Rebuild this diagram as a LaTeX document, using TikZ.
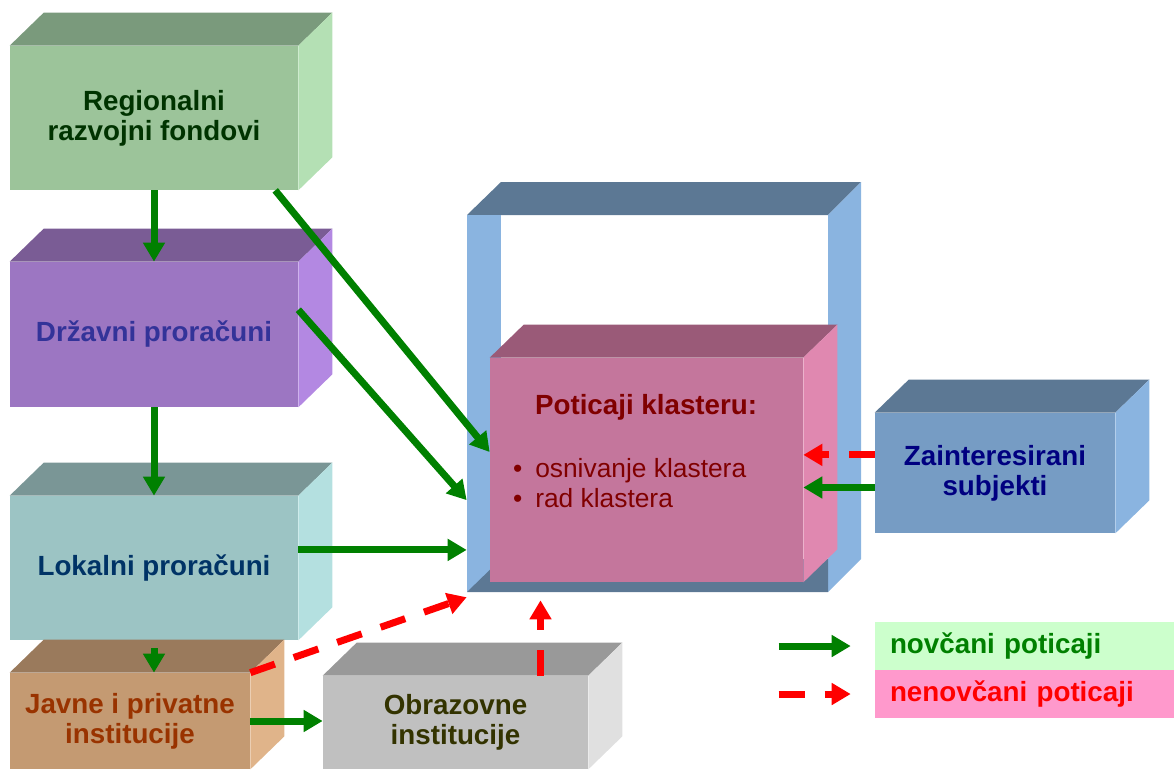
\documentclass[tikz,border=0pt]{standalone}
\usepackage{fontspec}
\setmainfont{Liberation Sans}
\usetikzlibrary{arrows.meta,calc}

\definecolor{zelF}{HTML}{9CC49A}
\definecolor{zelT}{HTML}{7A9A7C}
\definecolor{zelS}{HTML}{B4E0B4}
\definecolor{ljubF}{HTML}{9C76C2}
\definecolor{ljubT}{HTML}{7A5C95}
\definecolor{ljubS}{HTML}{B388E2}
\definecolor{tirkF}{HTML}{9CC4C4}
\definecolor{tirkT}{HTML}{7A9696}
\definecolor{tirkS}{HTML}{B4E0E0}
\definecolor{smedF}{HTML}{C49A72}
\definecolor{smedT}{HTML}{9A7A5C}
\definecolor{smedS}{HTML}{E0B48A}
\definecolor{sivF}{HTML}{C0C0C0}
\definecolor{sivT}{HTML}{999999}
\definecolor{sivS}{HTML}{E0E0E0}
\definecolor{rozF}{HTML}{C4769C}
\definecolor{rozT}{HTML}{9A5A78}
\definecolor{rozS}{HTML}{E088B0}
\definecolor{plavF}{HTML}{769CC4}
\definecolor{plavT}{HTML}{5C7894}
\definecolor{plavS}{HTML}{8AB4E0}
\definecolor{zelena}{HTML}{008000}
\definecolor{crvena}{HTML}{FF0000}
\definecolor{svZelena}{HTML}{CCFFCC}
\definecolor{svRoza}{HTML}{FF99CC}

\tikzset{
	kutija/.style={rectangle, inner sep=0pt, align=center,
		font=\fontsize{15.8}{17}\selectfont\bfseries},
	legenda/.style={rectangle, inner xsep=0.3cm, inner ysep=0pt,
		text width=5.38cm, minimum height=0.96cm, align=left,
		font=\fontsize{15.8}{17}\selectfont\bfseries},
	novac/.style={draw=zelena, line width=0.14cm,
		-{Triangle[length=0.38cm,width=0.42cm]}},
	nenovac/.style={draw=crvena, line width=0.14cm,
		dash pattern=on 0.52cm off 0.4cm,
		-{Triangle[length=0.38cm,width=0.42cm]}}
}

% top and side face of a box, front face is the node
\newcommand{\kocka}[3]{
	\fill[#2] (#1.north west) -- ++(34,-33) -- ([shift={(34,-33)}]#1.north east) -- (#1.north east) -- cycle;
	\fill[#3] (#1.north east) -- ++(34,-33) -- ([shift={(34,-33)}]#1.south east) -- (#1.south east) -- cycle;
}

\begin{document}
\begin{tikzpicture}[x=0.02cm, y=-0.02cm]
	\useasboundingbox (0,0) rectangle (1174,769);
	
	% left column
	\node[kutija, fill=zelF, text={rgb,255:red,0;green,51;blue,0},
		minimum width=5.76cm, minimum height=2.88cm] (regfond) at (154,118)
		{Regionalni\\razvojni fondovi};
	\kocka{regfond}{zelT}{zelS}
	
	\node[kutija, fill=ljubF, text={rgb,255:red,51;green,51;blue,153},
		minimum width=5.76cm, minimum height=2.9cm] (drzava) at (154,334.5)
		{Državni proračuni};
	\kocka{drzava}{ljubT}{ljubS}
	
	\node[kutija, fill=tirkF, text={rgb,255:red,0;green,51;blue,102},
		minimum width=5.76cm, minimum height=2.88cm] (lokal) at (154,568)
		{Lokalni proračuni};
	\kocka{lokal}{tirkT}{tirkS}
	
	\node[kutija, fill=smedF, text={rgb,255:red,153;green,51;blue,0},
		minimum width=4.8cm, minimum height=1.92cm] (javne) at (130,721)
		{Javne i privatne\\institucije};
	\kocka{javne}{smedT}{smedS}
	
	\node[kutija, fill=sivF, text={rgb,255:red,51;green,51;blue,0},
		minimum width=5.3cm, minimum height=1.86cm] (obraz) at (455.5,722.5)
		{Obrazovne\\institucije};
	\kocka{obraz}{sivT}{sivS}
	
	% open frame round the cluster
	\node[rectangle, inner sep=0pt, minimum width=7.22cm, minimum height=7.54cm] (okvir) at (647.5,403.5) {};
	\fill[plavT] (467,215) -- (501,182) -- (861,182) -- (828,215) -- cycle;
	\fill[plavS] (467,215) rectangle (501,592);
	\fill[plavS] (828,215) -- (861,182) -- (861,559) -- (828,592) -- cycle;
	\fill[plavT] (467,592) -- (501,559) -- (828,559) -- (828,592) -- cycle;
	
	\node[kutija, fill=rozF, minimum width=6.26cm, minimum height=4.48cm] (poticaj) at (646.5,470) {};
	\kocka{poticaj}{rozT}{rozS}
	\node[anchor=north west, inner sep=0pt, align=left,
		text={rgb,255:red,128;green,0;blue,0},
		font=\fontsize{15}{17.6}\selectfont] (poticajTekst) at ($(poticaj.north west)+(23,36)$)
		{\hspace*{0.44cm}{\fontsize{15.8}{17.6}\selectfont\bfseries Poticaji klasteru:}\\[0.64cm]
		\textbullet\hspace{0.26cm}osnivanje klastera\\
		\textbullet\hspace{0.26cm}rad klastera};
	
	\node[kutija, fill=plavF, text={rgb,255:red,0;green,0;blue,128},
		minimum width=4.8cm, minimum height=2.4cm] (zaint) at (995,473)
		{Zainteresirani\\subjekti};
	\kocka{zaint}{plavT}{plavS}
	
	% legend
	\node[legenda, fill=svZelena, text=zelena] (novcani) at (1024.5,646) {novčani poticaji};
	\node[legenda, fill=svRoza, text=crvena] (nenovcani) at (1024.5,694) {nenovčani poticaji};
	
	% arrows
	\draw[novac] (regfond.south) -- (drzava.north);
	\draw[novac] ($(regfond.south west)!0.92!(regfond.south east)$) -- ($(poticaj.north west)!0.42!(poticaj.south west)$);
	\draw[novac] (drzava.south) -- (lokal.north);
	\draw[novac] ($(drzava.north east)!0.33!(drzava.south east)$) -- ($(okvir.north west)!0.756!(okvir.south west)$);
	\coordinate (lokalIzlaz) at ($(lokal.north east)!0.375!(lokal.south east)$);
	\draw[novac] (lokalIzlaz) -- (lokalIzlaz -| okvir.west);
	\draw[novac, shorten <=0.16cm] (lokal.south) -- (lokal.south |- javne.north);
	\draw[novac] (javne.east) -- (javne.east -| obraz.west);
	
	\draw[nenovac] (javne.north east) -- ($(okvir.north west)!1.013!(okvir.south west)$);
	\coordinate (obrazVrh) at ($(obraz.north west)!0.82!(obraz.north east)$);
	\draw[nenovac, shorten >=0.36cm] (obrazVrh) -- (obrazVrh |- poticaj.south);
	
	\coordinate (zaintA) at ($(zaint.north west)!0.35!(zaint.south west)$);
	\coordinate (zaintB) at ($(zaint.north west)!0.62!(zaint.south west)$);
	\draw[nenovac] (zaintA) -- (zaintA -| poticaj.east);
	\draw[novac] (zaintB) -- (zaintB -| poticaj.east);
	
	\draw[novac] ([xshift=-1.92cm]novcani.west) -- ([xshift=-0.48cm]novcani.west);
	\draw[nenovac] ([xshift=-1.92cm]nenovcani.west) -- ([xshift=-0.48cm]nenovcani.west);
\end{tikzpicture}
\end{document}
